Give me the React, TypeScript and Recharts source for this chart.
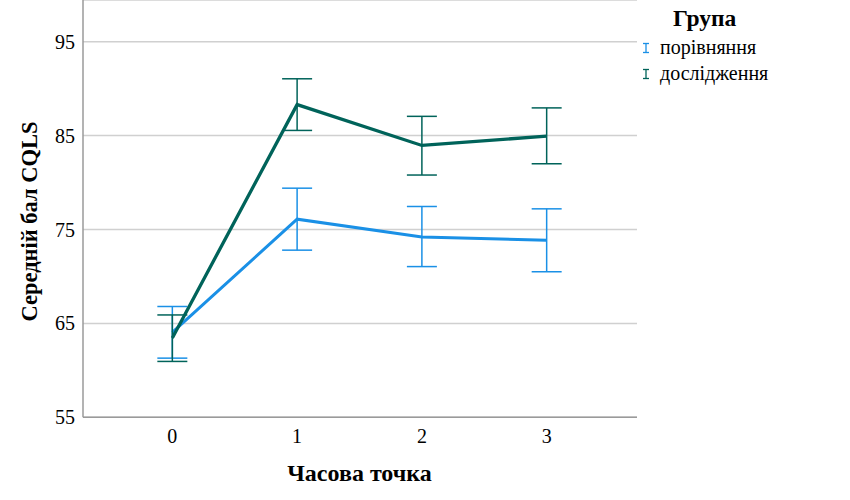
import React from 'react';
import { ComposedChart, Line, XAxis, YAxis, CartesianGrid, ErrorBar, Label } from 'recharts';

const timePoints = [0, 1, 2, 3];
const comparisonMean = [64.05, 76.1, 74.2, 73.85];
const comparisonLow = [61.3, 72.8, 71.05, 70.5];
const comparisonHigh = [66.8, 79.4, 77.45, 77.2];
const studyMean = [63.45, 88.3, 83.95, 84.95];
const studyLow = [60.95, 85.55, 80.8, 82.0];
const studyHigh = [65.9, 91.05, 87.05, 87.95];
const yTicks = [55, 65, 75, 85, 95];
const xTicks = [0, 1, 2, 3];

const seriesNames = ['порівняння', 'дослідження'];
const legendTitle = 'Група';
const xTitle = 'Часова точка';
const yTitle = 'Середній бал CQLS';

const BLUE = '#1a90e6';
const TEAL = '#00635a';
const FONT = "'Liberation Serif', 'Times New Roman', serif";

const data = timePoints.map((t, i) => ({
  t,
  comp: comparisonMean[i],
  compErr: [comparisonMean[i] - comparisonLow[i], comparisonHigh[i] - comparisonMean[i]],
  study: studyMean[i],
  studyErr: [studyMean[i] - studyLow[i], studyHigh[i] - studyMean[i]],
}));

const LegendIcon = ({ color }: { color: string }) => (
  <svg width={10} height={12} style={{ display: 'inline-block', verticalAlign: 'middle', marginRight: 9, marginTop: -3 }}>
    <line x1={2} y1={1.5} x2={8} y2={1.5} stroke={color} strokeWidth={1.3} />
    <line x1={5} y1={1.5} x2={5} y2={10.5} stroke={color} strokeWidth={1.3} />
    <line x1={2} y1={10.5} x2={8} y2={10.5} stroke={color} strokeWidth={1.3} />
  </svg>
);

const LegendBox = () => (
  <div style={{ position: 'absolute', left: 640, top: 0, width: 210, fontFamily: FONT, color: '#000' }}>
    <div style={{ fontWeight: 'bold', fontSize: 23.5, marginLeft: 33, lineHeight: '26px', marginTop: 5 }}>{legendTitle}</div>
    <div style={{ fontSize: 20, lineHeight: '26px', marginLeft: 1, marginTop: 3 }}>
      <div><LegendIcon color={BLUE} />{seriesNames[0]}</div>
      <div><LegendIcon color={TEAL} />{seriesNames[1]}</div>
    </div>
  </div>
);

export default function App() {
  return (
    <div style={{ position: 'absolute', left: 0, top: 0, width: 850, height: 500, background: '#fff' }}>
      <ComposedChart width={850} height={500} data={data} margin={{ top: 0, right: 213, bottom: 0, left: 0 }}>
        <CartesianGrid vertical={false} stroke="#d0d0d0" strokeWidth={1.5} />
        <XAxis
          dataKey="t"
          type="number"
          domain={[-0.716, 3.724]}
          ticks={xTicks}
          allowDataOverflow
          height={82.7}
          tickLine={false}
          tickSize={0}
          tickMargin={11}
          axisLine={{ stroke: '#9a9a9a', strokeWidth: 1.5 }}
          tick={{ fill: '#000', fontSize: 20, fontFamily: FONT }}
        >
          <Label
            content={() => (
              <text x={359.5} y={473} textAnchor="middle" dominantBaseline="central" fontFamily={FONT} fontWeight="bold" fontSize={24} fill="#000">
                {xTitle}
              </text>
            )}
          />
        </XAxis>
        <YAxis
          type="number"
          domain={[55, 99.44]}
          ticks={yTicks}
          allowDataOverflow
          width={83}
          tickLine={false}
          tickSize={0}
          tickMargin={8}
          axisLine={{ stroke: '#9a9a9a', strokeWidth: 1.5 }}
          tick={{ fill: '#000', fontSize: 20, fontFamily: FONT }}
        >
          <Label
            content={() => (
              <text x={29} y={221.5} transform="rotate(-90 29 221.5)" textAnchor="middle" dominantBaseline="central" fontFamily={FONT} fontWeight="bold" fontSize={22.5} fill="#000">
                {yTitle}
              </text>
            )}
          />
        </YAxis>
        <Line
          name={seriesNames[0]}
          dataKey="comp"
          type="linear"
          stroke={BLUE}
          strokeWidth={3}
          dot={false}
          activeDot={false}
          isAnimationActive={false}
        >
          <ErrorBar dataKey="compErr" direction="y" width={15} stroke={BLUE} strokeWidth={1.5} isAnimationActive={false} />
        </Line>
        <Line
          name={seriesNames[1]}
          dataKey="study"
          type="linear"
          stroke={TEAL}
          strokeWidth={3.3}
          dot={false}
          activeDot={false}
          isAnimationActive={false}
        >
          <ErrorBar dataKey="studyErr" direction="y" width={15} stroke={TEAL} strokeWidth={1.5} isAnimationActive={false} />
        </Line>
      </ComposedChart>
      <LegendBox />
    </div>
  );
}
